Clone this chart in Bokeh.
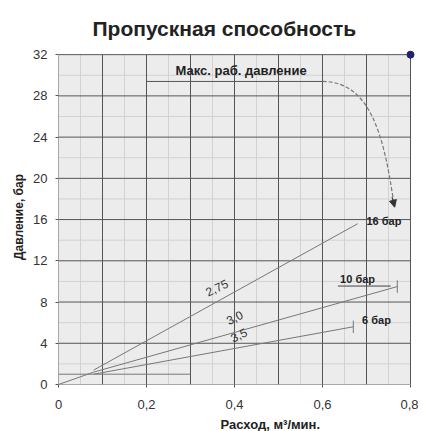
from bokeh.plotting import figure
from bokeh.models import (FixedTicker, CustomJSTickFormatter, Label, Title,
                          Arrow, NormalHead, Range1d)
from bokeh.embed import file_html
from bokeh.resources import INLINE
from bokeh.core.properties import value

# ---- data ----
x_ticks = [0, 0.2, 0.4, 0.6, 0.8]
y_ticks = [0, 4, 8, 12, 16, 20, 24, 28, 32]
x_grid = [0, 0.1, 0.2, 0.3, 0.4, 0.5, 0.6, 0.7, 0.8]
x_minor = [0.05, 0.15, 0.25, 0.35, 0.45, 0.55, 0.65, 0.75]
y_minor = [2, 6, 10, 14, 18, 22, 26, 30]

line_names = ["2,75", "3,0", "3,5"]
line_x = [[0.08, 0.68], [0.08, 0.77], [0.08, 0.67]]
line_y = [[1.4, 15.6], [1.2, 9.5], [1.0, 5.6]]
start_x = [0.0, 0.08]
start_y = [0.0, 1.2]
low_x = [0.0, 0.3]
low_y = [1.0, 1.0]

end_labels = ["16 бар", "10 бар", "6 бар"]
end_label_x = [0.70, 0.64, 0.69]
end_label_y = [15.9, 10.2, 6.3]

name_label_x = [0.36, 0.40, 0.41]
name_label_y = [9.4, 6.5, 4.8]

max_p = 29.4
max_x = [0.2, 0.6]
curve = dict(x0=0.6, y0=29.4, cx0=0.71, cy0=29.4, cx1=0.74, cy1=24.0, x1=0.762, y1=17.6)

point_x = [0.8]
point_y = [32]

FONT = "Liberation Sans"
X0, X1 = x_ticks[0], x_ticks[-1]
Y0, Y1 = y_ticks[0], y_ticks[-1]

p = figure(frame_width=359, frame_height=335, output_backend="svg", toolbar_location=None,
           x_range=Range1d(0, 0.8159), y_range=Range1d(0, 32.5),
           min_border_left=58, min_border_right=1, min_border_top=49, min_border_bottom=47,
           background_fill_color="white", border_fill_color="white",
           outline_line_color=None)
p.xgrid.visible = False
p.ygrid.visible = False

t = Title(text="Пропускная способность", align="left", text_font=FONT,
          text_font_size="21px", text_font_style="bold", text_color="#222222",
          standoff=19, offset=34)
p.add_layout(t, "above")

xl = Title(text="Расход, м³/мин.", align="left", text_font=FONT,
           text_font_size="13px", text_font_style="bold", text_color="#222222",
           standoff=7, offset=162)
p.add_layout(xl, "below")

# plot area background
p.quad(left=[X0], right=[X1], bottom=[Y0], top=[Y1], fill_color="#ececec", line_color=None)

# minor grid
p.segment(x0=x_minor, y0=Y0, x1=x_minor, y1=Y1, line_color="#d2d2d2", line_width=1)
p.segment(x0=X0, y0=y_minor, x1=X1, y1=y_minor, line_color="#d2d2d2", line_width=1)
# major grid + frame
p.segment(x0=x_grid, y0=Y0, x1=x_grid, y1=Y1, line_color="#555555", line_width=1)
p.segment(x0=X0, y0=y_ticks, x1=X1, y1=y_ticks, line_color="#555555", line_width=1)

p.xaxis.ticker = FixedTicker(ticks=x_ticks)
p.yaxis.ticker = FixedTicker(ticks=y_ticks)
p.xaxis.bounds = (X0, X1)
p.yaxis.bounds = (Y0, Y1)
p.xaxis.formatter = CustomJSTickFormatter(code="return tick == 0 ? '0' : tick.toFixed(1).replace('.', ',');")
for ax in (p.xaxis, p.yaxis):
    ax.axis_line_color = None
    ax.major_tick_line_color = "#555555"
    ax.major_tick_out = 3
    ax.major_tick_in = 0
    ax.minor_tick_line_color = None
    ax.major_label_text_font = FONT
    ax.major_label_text_font_size = "13px"
    ax.major_label_text_color = "#333333"
    ax.axis_label_text_font = FONT
    ax.axis_label_text_font_size = "12px"
    ax.axis_label_text_font_style = "bold"
    ax.axis_label_text_color = "#222222"
p.xaxis.major_label_standoff = 12
p.yaxis.major_label_standoff = 8
p.yaxis.axis_label = "Давление, бар"
p.yaxis.axis_label_standoff = 4

# flow lines
for xs, ys in zip(line_x, line_y):
    p.line(xs, ys, line_color="#777777", line_width=1)
p.line(start_x, start_y, line_color="#777777", line_width=1)
p.line(low_x, low_y, line_color="#777777", line_width=1)

# end ticks on lines 2 and 3
for xs, ys in zip(line_x[1:], line_y[1:]):
    p.segment(x0=[xs[1]], y0=[ys[1] - 0.6], x1=[xs[1]], y1=[ys[1] + 0.6],
              line_color="#777777", line_width=1)

# max pressure line and curved arrow
p.line(max_x, [max_p, max_p], line_color="#555555", line_width=1)
p.bezier(x0=[curve["x0"]], y0=[curve["y0"]], x1=[curve["x1"]], y1=[curve["y1"]],
         cx0=[curve["cx0"]], cy0=[curve["cy0"]], cx1=[curve["cx1"]], cy1=[curve["cy1"]],
         line_color="#777777", line_width=1.2, line_dash="4 2")
p.add_layout(Arrow(end=NormalHead(size=7, fill_color="#333333", line_color="#333333"),
                   x_start=curve["x1"] - 0.004, y_start=curve["y1"] + 0.6,
                   x_end=curve["x1"] + 0.002, y_end=curve["y1"] - 0.4,
                   line_color="#333333", line_width=1))
p.add_layout(Label(x=0.415, y=max_p + 0.3, text="Макс. раб. давление", text_font=FONT,
                   text_font_size="13px", text_font_style="bold", text_color="#222222",
                   text_align="center", text_baseline="bottom"))

# end labels
p.text(x=end_label_x, y=end_label_y, text=end_labels, text_font=value(FONT),
       text_font_size="11px", text_font_style="bold", text_color="#222222",
       text_baseline="middle")
p.line([0.635, 0.755], [9.55, 9.55], line_color="#444444", line_width=1)

# line name labels
p.text(x=name_label_x, y=name_label_y, text=line_names, text_font=value(FONT),
       text_font_size="12px", text_color="#333333", angle=0.45,
       text_baseline="middle", text_align="center")

p.scatter(point_x, point_y, size=7, fill_color="#22226e", line_color="#22226e")

open("out.html", "w").write(file_html(p, INLINE))
